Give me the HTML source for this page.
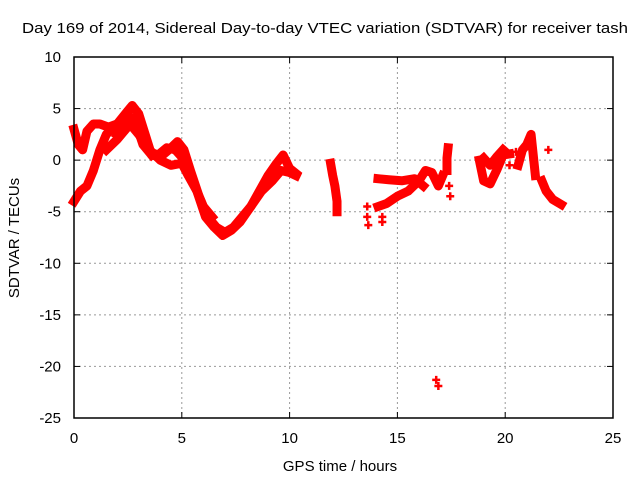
<!DOCTYPE html>
<html><head><meta charset="utf-8"><style>
body{margin:0;background:#fff}
svg{display:block;font-family:"Liberation Sans",sans-serif}
</style></head><body>
<svg id="c" width="640" height="480">
<rect width="640" height="480" fill="#fff"/>
<text x="325" y="33" font-size="15" text-anchor="middle" textLength="606" lengthAdjust="spacingAndGlyphs">Day 169 of 2014, Sidereal Day-to-day VTEC variation (SDTVAR) for receiver tash</text>
<text x="340" y="471" font-size="15" text-anchor="middle">GPS time / hours</text>
<text transform="translate(19,238) rotate(-90)" font-size="15" text-anchor="middle">SDTVAR / TECUs</text>
<g id="grid"></g><g id="ticks"></g><g id="marks"></g>
<rect x="74" y="57" width="539" height="361" fill="none" stroke="#000" stroke-width="1.5"/>
</svg>
<script>
const xTicks=[0,5,10,15,20,25];
const yTicks=[10,5,0,-5,-10,-15,-20,-25];
const t1x=[0,0.3,0.6,0.9,1.2,1.5,2.0,2.5,2.7,3.0,3.3,3.6,4.0,4.4,4.8,5.1,5.4,5.8,6.2,6.6,7.0,7.4,7.8,8.2,8.6,9.0,9.4,9.7,10.0,10.3];
const t1y=[-4,-3,-2.5,-1,1,2.5,3.5,4.8,5.3,4.5,2.5,0.5,0.3,1,1.8,1,-1,-3.5,-5.5,-6.5,-7,-6.5,-5.5,-4.5,-3,-1.5,-0.3,0.5,-0.8,-1.3];
const t2x=[0,0.2,0.4,0.6,0.9,1.2,1.6,2.0,2.4,2.8,3.2,3.6];
const t2y=[3,1.5,1,2.8,3.5,3.5,3.2,3.5,4,4,1.5,0.5];
const t3x=[1.5,2,2.6,3.0,3.5,4,4.5,5,5.3,5.7,6.1,6.5,6.9,7.3,7.7,8.2,8.7,9.2,9.6,10.0,10.3];
const t3y=[1,2,3.5,2.5,1,0,-0.5,-0.3,-1.5,-3,-5.5,-6.5,-7.3,-6.8,-6,-4.5,-3,-2,-1,-1.2,-1.5];
const t12x=[2.0,2.3,2.6,2.9,3.2,3.5,3.9,4.3,4.7,5.0,5.3,5.6,6.0,6.4];
const t12y=[2.5,3.8,4.2,3.5,2,0.8,0.5,1.2,1.0,0.3,-1.2,-2.5,-4.5,-5.5];
const t4x=[11.9,12.0,12.1,12.2,12.2];
const t4y=[-0.3,-1.5,-2.5,-4,-5];
const t5x=[14.1,14.5,15,15.5,16,16.3,16.6,16.9,17.1];
const t5y=[-4.5,-4.2,-3.5,-3,-2,-1,-1.2,-2.5,-1.5];
const t6x=[14.1,14.6,15.2,15.8,16.2];
const t6y=[-1.8,-1.9,-2,-1.8,-2.5];
const t7x=[17.3,17.3,17.35];
const t7y=[-1,0.2,1.2];
const t8x=[18.8,19.0,19.3,19.6,19.9,20.2];
const t8y=[0,-2,-2.3,-1,0.5,0.6];
const t9x=[19.0,19.3,19.6,19.9];
const t9y=[0.2,-0.5,0.3,1.0];
const t10x=[20.6,20.8,21.0,21.2,21.4];
const t10y=[-0.5,1,1.5,2.5,-1.5];
const t11x=[21.7,21.9,22.2,22.6];
const t11y=[-2,-3,-3.8,-4.3];
const ptX=[13.6,13.6,13.65,14.3,14.3,16.8,16.9,17.4,17.45,22.0,20.2,20.5];
const ptY=[-4.5,-5.5,-6.3,-5.5,-6,-21.3,-21.9,-2.5,-3.5,1,-0.5,0.8];
const X=v=>74+v*539/25, Y=v=>57+(10-v)*361/35;
const ns="http://www.w3.org/2000/svg";
function mk(t,a,p){const e=document.createElementNS(ns,t);for(const k in a)e.setAttribute(k,a[k]);p.appendChild(e);return e;}
const G=document.getElementById('grid'),T=document.getElementById('ticks'),M=document.getElementById('marks');
xTicks.forEach(v=>{
 if(v>0&&v<25){const l=mk('line',{x1:X(v),x2:X(v),y1:57,y2:418,stroke:'#999','stroke-dasharray':'2,3'},G);
 
 }
 const t=mk('text',{x:X(v),y:443,'font-size':15,'text-anchor':'middle'},T);t.textContent=v;
 
 
 mk('line',{x1:X(v),x2:X(v),y1:418,y2:412,stroke:'#000'},T);mk('line',{x1:X(v),x2:X(v),y1:57,y2:63,stroke:'#000'},T);
});
yTicks.forEach(v=>{
 if(v<10&&v>-25){const l=mk('line',{x1:74,x2:613,y1:Y(v),y2:Y(v),stroke:'#999','stroke-dasharray':'2,3'},G);
 
 }
 const t=mk('text',{x:61,y:Y(v)+5,'font-size':15,'text-anchor':'end'},T);t.textContent=v;
 
 
 mk('line',{x1:74,x2:80,y1:Y(v),y2:Y(v),stroke:'#000'},T);mk('line',{x1:613,x2:607,y1:Y(v),y2:Y(v),stroke:'#000'},T);
});
const tracks=[[t1x,t1y],[t2x,t2y],[t3x,t3y],[t12x,t12y],[t4x,t4y],[t5x,t5y],[t6x,t6y],[t7x,t7y],[t8x,t8y],[t9x,t9y],[t10x,t10y],[t11x,t11y]];
tracks.forEach(([xs,ys])=>{
 const p=mk('polyline',{points:xs.map((x,i)=>X(x)+','+Y(ys[i])).join(' '),fill:'none',stroke:'#f00','stroke-width':9,'stroke-linejoin':'round','stroke-linecap':'square'},M);
 
 
});
ptX.forEach((x,i)=>{
 const p=mk('path',{d:`M${X(x)-4},${Y(ptY[i])}h8M${X(x)},${Y(ptY[i])-4}v8`,stroke:'#f00','stroke-width':2.5},M);
 
 
});
</script>
</body></html>
